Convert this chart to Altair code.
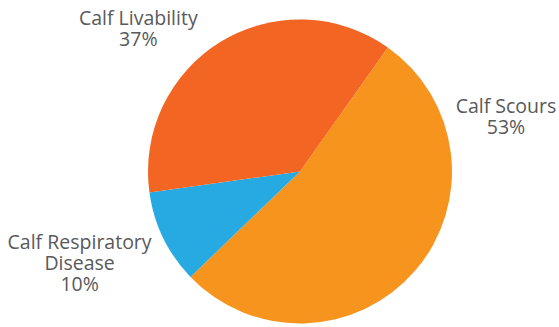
import math
import altair as alt
import pandas as pd

# ---- data ----
categories = ["Calf Scours", "Calf Respiratory Disease", "Calf Livability"]
label_lines = [["Calf Scours"], ["Calf Respiratory", "Disease"], ["Calf Livability"]]
values = [53, 10, 37]
colors = ["#F7941D", "#27AAE1", "#F26522"]

df = pd.DataFrame({
    "category": categories,
    "value": values,
    "order": list(range(len(categories))),
    "label": ["\n".join(lines + [f"{v}%"]) for lines, v in zip(label_lines, values)],
})

# ---- style ----
START = math.radians(35.3)
CX, CY, R = 300, 171.5, 152
LABEL_R = 215
label_offsets = [(43, -205), (-27, -22), (-50, 31)]
FONT = "Open Sans"
FONT_SIZE = 19.5
TEXT_COLOR = "#58595b"

theta_scale = alt.Scale(domain=[0, sum(values)], range=[START, START + 2 * math.pi])

base = alt.Chart(df)

pie = base.mark_arc(x=CX, y=CY, radius=R).encode(
    theta=alt.Theta("value:Q", stack=True, scale=theta_scale),
    color=alt.Color("category:N", scale=alt.Scale(domain=categories, range=colors), legend=None),
    order=alt.Order("order:Q"),
)

lab_base = base.transform_window(
    cum="sum(value)", sort=[alt.SortField("order")]
).transform_calculate(mid="datum.cum - datum.value / 2")

layers = [pie]
for i, (dx, dy) in enumerate(label_offsets):
    layers.append(
        lab_base.transform_filter(alt.datum.order == i).mark_text(
            x=CX, y=CY, radius=LABEL_R, dx=dx, dy=dy,
            lineBreak="\n", font=FONT, fontSize=FONT_SIZE, fontWeight=400,
            color=TEXT_COLOR, align="center", baseline="middle", lineHeight=21,
        ).encode(
            theta=alt.Theta("mid:Q", scale=theta_scale),
            text="label:N",
        )
    )

chart = alt.layer(*layers).properties(
    width=559, height=327, autosize=alt.AutoSizeParams(type="none"), padding=0
).configure_view(stroke=None)

chart.save("out.html", embed_options={"renderer": "svg", "actions": False})
